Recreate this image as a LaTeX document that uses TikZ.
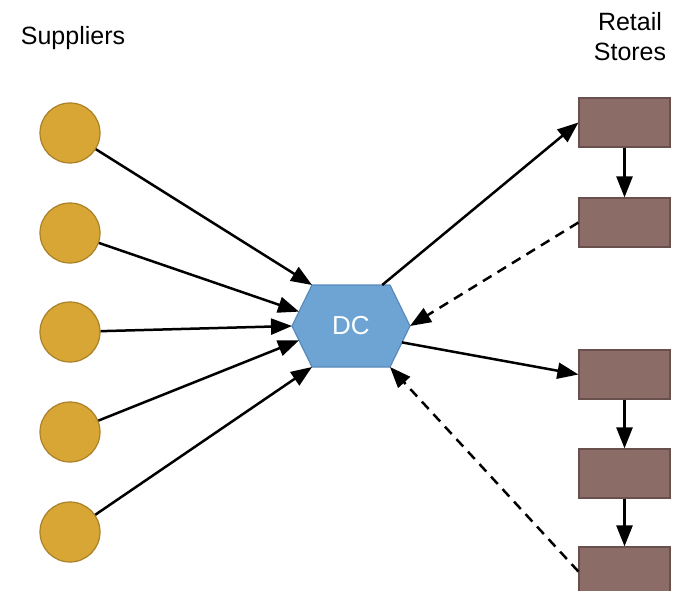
\documentclass[tikz,border=0pt]{standalone}
\usepackage{fontspec}
\setmainfont{Liberation Sans}
\usepackage{tikz}
\usetikzlibrary{arrows.meta}
\usetikzlibrary{calc}

\definecolor{supgold}{RGB}{216,166,52}
\definecolor{supedge}{RGB}{170,128,40}
\definecolor{dcblue}{RGB}{110,164,212}
\definecolor{dcedge}{RGB}{88,138,188}
\definecolor{storebrown}{RGB}{140,108,103}
\definecolor{storeedge}{RGB}{104,80,76}

\tikzset{
    supplier/.style={circle, minimum size=60pt, inner sep=0pt, fill=supgold, draw=supedge, line width=1.2pt},
    store/.style={rectangle, minimum width=91pt, minimum height=49pt, inner sep=0pt, fill=storebrown, draw=storeedge, line width=1.2pt},
    flow/.style={line width=2.5pt, -{Triangle[length=21pt,width=16pt]}},
    back/.style={flow, dash pattern=on 10pt off 7pt},
    lbl/.style={font=\fontsize{25}{30}\selectfont, align=center}
}

\begin{document}
\begin{tikzpicture}[x=1pt, y=-1pt]

    \useasboundingbox (0,0) rectangle (675,591);

    \node[lbl] (suptitle) at (73,38) {Suppliers};
    \node[lbl] (storetitle) at (630,37) {Retail\\Stores};

    \node[supplier] (s1) at (70,133) {};
    \node[supplier] (s2) at (70,233) {};
    \node[supplier] (s3) at (70,332) {};
    \node[supplier] (s4) at (70,432) {};
    \node[supplier] (s5) at (70,532) {};

    \coordinate (hnw) at (312,285);
    \coordinate (hne) at (390,285);
    \coordinate (he)  at (410,326);
    \coordinate (hse) at (390,367);
    \coordinate (hsw) at (312,367);
    \coordinate (hw)  at (292,326);
    \fill[dcblue, draw=dcedge, line width=1.2pt, line join=round] (hnw) -- (hne) -- (he) -- (hse) -- (hsw) -- (hw) -- cycle;
    \node[font=\fontsize{26}{30}\selectfont, text=white] (dc) at (351,326) {DC};

    \node[store] (r1) at (624.5,122.5) {};
    \node[store] (r2) at (624.5,222.5) {};
    \node[store] (r3) at (624.5,374.5) {};
    \node[store] (r4) at (624.5,473.5) {};
    \node[store] (r5) at (624.5,571.5) {};

    \draw[flow] (s1) -- (hnw);
    \draw[flow] (s2) -- ($(hw)!0.35!(hnw)$);
    \draw[flow] (s3) -- (hw);
    \draw[flow] (s4) -- ($(hw)!0.35!(hsw)$);
    \draw[flow] (s5) -- (hsw);

    \draw[flow] ($(hnw)!0.9!(hne)$) -- (r1.west);
    \draw[back] (r2.west) -- (he);
    \draw[flow] ($(he)!0.4!(hse)$) -- (r3.west);
    \draw[back] (r5.west) -- (hse);

    \draw[flow] (r1) -- (r2);
    \draw[flow] (r3) -- (r4);
    \draw[flow] (r4) -- (r5);

\end{tikzpicture}
\end{document}
